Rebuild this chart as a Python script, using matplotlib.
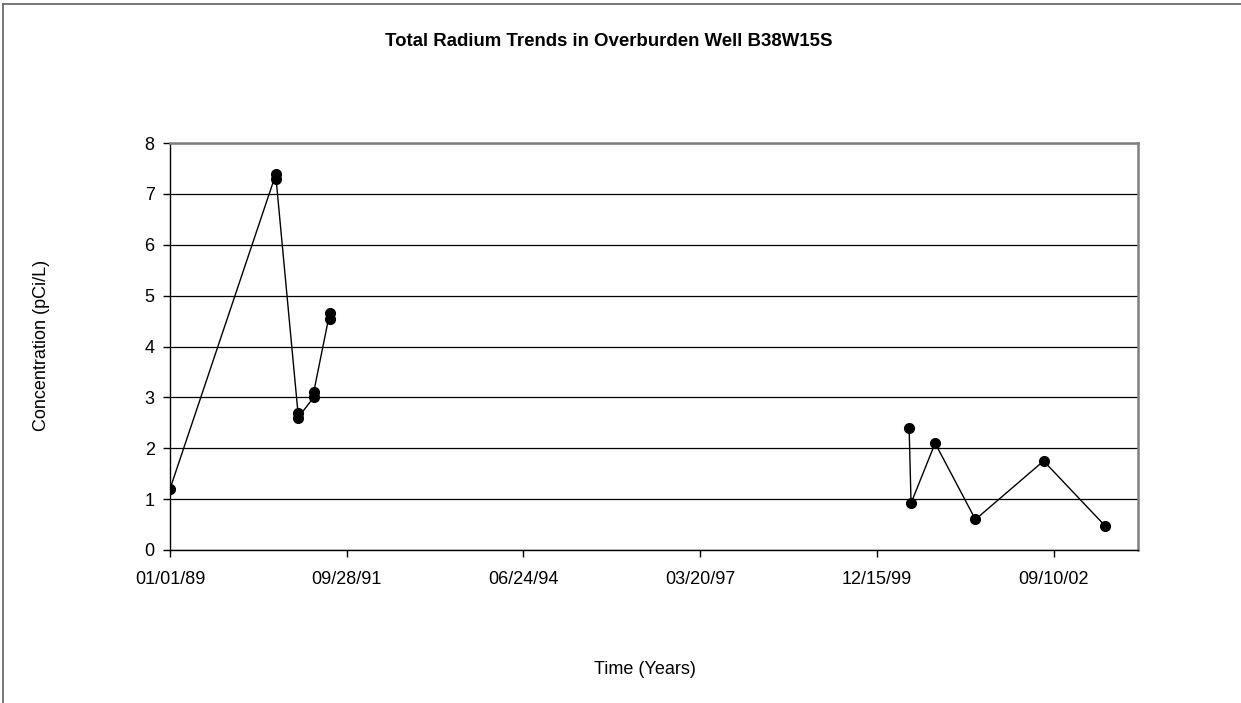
import matplotlib
matplotlib.use("Agg")
import matplotlib.pyplot as plt
import matplotlib.dates as mdates
from matplotlib.lines import Line2D
import datetime as dt

plt.rcParams['font.family'] = ['Liberation Sans', 'DejaVu Sans']

# Data (two sampling periods; gap in between is not connected)
dates_early = ["1989-01-01", "1990-08-24", "1990-08-24", "1990-12-26", "1990-12-26",
               "1991-03-25", "1991-03-25", "1991-06-23", "1991-06-23"]
values_early = [1.2, 7.4, 7.3, 2.7, 2.6, 3.0, 3.1, 4.65, 4.55]
dates_late = ["2000-06-14", "2000-06-25", "2000-11-08", "2001-06-24", "2002-07-15", "2003-06-29"]
values_late = [2.4, 0.92, 2.1, 0.6, 1.75, 0.47]

tick_start = "1989-01-01"
tick_step_days = 1000
n_ticks = 6
x_end = "2003-12-31"
y_ticks = list(range(0, 9))

title = "Total Radium Trends in Overburden Well B38W15S"
xlabel = "Time (Years)"
ylabel = "Concentration (pCi/L)"

def to_dt(lst):
    return [dt.datetime.strptime(s, "%Y-%m-%d") for s in lst]

fig = plt.figure(figsize=(12.41, 7.03), dpi=100)
ax = fig.add_axes([170/1241, 153/703, 968/1241, 407/703])

for d, v in ((dates_early, values_early), (dates_late, values_late)):
    ax.plot(to_dt(d), v, color='black', lw=1.0,
            marker='o', markersize=7, markerfacecolor='black', markeredgecolor='black')

t0 = dt.datetime.strptime(tick_start, "%Y-%m-%d")
xt = [t0 + dt.timedelta(days=tick_step_days * i) for i in range(n_ticks)]
ax.set_xticks(xt)
ax.xaxis.set_major_formatter(mdates.DateFormatter("%m/%d/%y"))
ax.set_xlim(t0, dt.datetime.strptime(x_end, "%Y-%m-%d"))
ax.set_ylim(0, 8)
ax.set_yticks(y_ticks)

ax.grid(axis='y', color='black', lw=0.9)
ax.set_axisbelow(True)
for s in ['top', 'right']:
    ax.spines[s].set_color('#808080')
    ax.spines[s].set_linewidth(1.8)
for s in ['left', 'bottom']:
    ax.spines[s].set_color('black')
    ax.spines[s].set_linewidth(1.0)

ax.tick_params(axis='both', direction='out', length=5, width=1, labelsize=13, colors='black')
ax.tick_params(axis='x', pad=10)
ax.tick_params(axis='y', pad=6)

fig.text(609/1241, 1 - 42/703, title, ha='center', va='center', fontsize=13.4, fontweight='bold')
fig.text(645/1241, 1 - 670/703, xlabel, ha='center', va='center', fontsize=13)
fig.text(42/1241, 1 - 345/703, ylabel, ha='center', va='center', fontsize=13, rotation=90)

# figure border (top and left)
fig.add_artist(Line2D([3/1241, 1], [1 - 4/703, 1 - 4/703], transform=fig.transFigure, color='#606060', lw=1.2))
fig.add_artist(Line2D([3/1241, 3/1241], [0, 1 - 4/703], transform=fig.transFigure, color='#606060', lw=1.2))

fig.savefig("out.png", dpi=100)
